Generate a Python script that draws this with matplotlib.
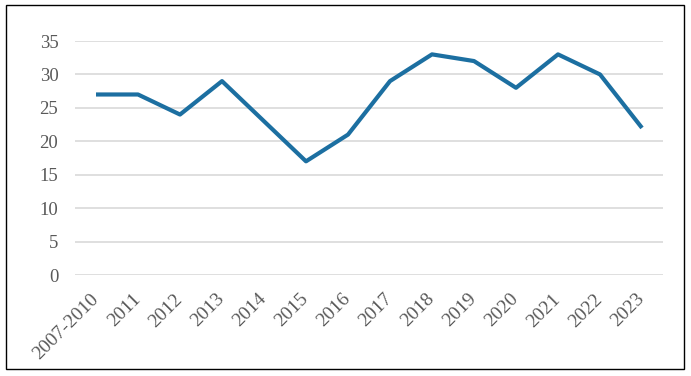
import matplotlib
matplotlib.use("Agg")
import matplotlib.pyplot as plt
from matplotlib.patches import Rectangle

categories = ["2007-2010", "2011", "2012", "2013", "2014", "2015", "2016",
              "2017", "2018", "2019", "2020", "2021", "2022", "2023"]
values = [27, 27, 24, 29, 23, 17, 21, 29, 33, 32, 28, 33, 30, 22]
yticks = [0, 5, 10, 15, 20, 25, 30, 35]

plt.rcParams['font.family'] = ['Liberation Serif', 'DejaVu Serif']

fig = plt.figure(figsize=(6.91, 3.76), dpi=100)
ax = fig.add_axes([75/691, 1-275/376, (663-75)/691, (275-41)/376])

x = list(range(len(categories)))
ax.plot(x, values, color="#1C6FA1", linewidth=3.0, solid_capstyle='butt', zorder=3)

ax.set_ylim(0, 35)
ax.set_xlim(-0.5, len(categories) - 0.5)
ax.set_yticks(yticks)
ax.set_yticklabels([str(t) for t in yticks])
ax.set_xticks(x)
ax.set_xticklabels(categories, rotation=45, ha='right', va='center', rotation_mode='anchor')
ax.grid(axis='y', color="#D9D9D9", linewidth=1.2, zorder=0)
ax.grid(axis='x', visible=False)
for s in ax.spines.values():
    s.set_visible(False)
ax.tick_params(axis='both', length=0, colors="#595959")
ax.tick_params(axis='y', pad=12, labelsize=13.5)
ax.tick_params(axis='x', pad=15.5, labelsize=14)

fig.patches.append(Rectangle((6/691, 1-369/376), (684-6)/691, (369-5)/376,
                             transform=fig.transFigure, fill=False,
                             edgecolor="black", linewidth=1.0))

fig.savefig("out.png", dpi=100)
